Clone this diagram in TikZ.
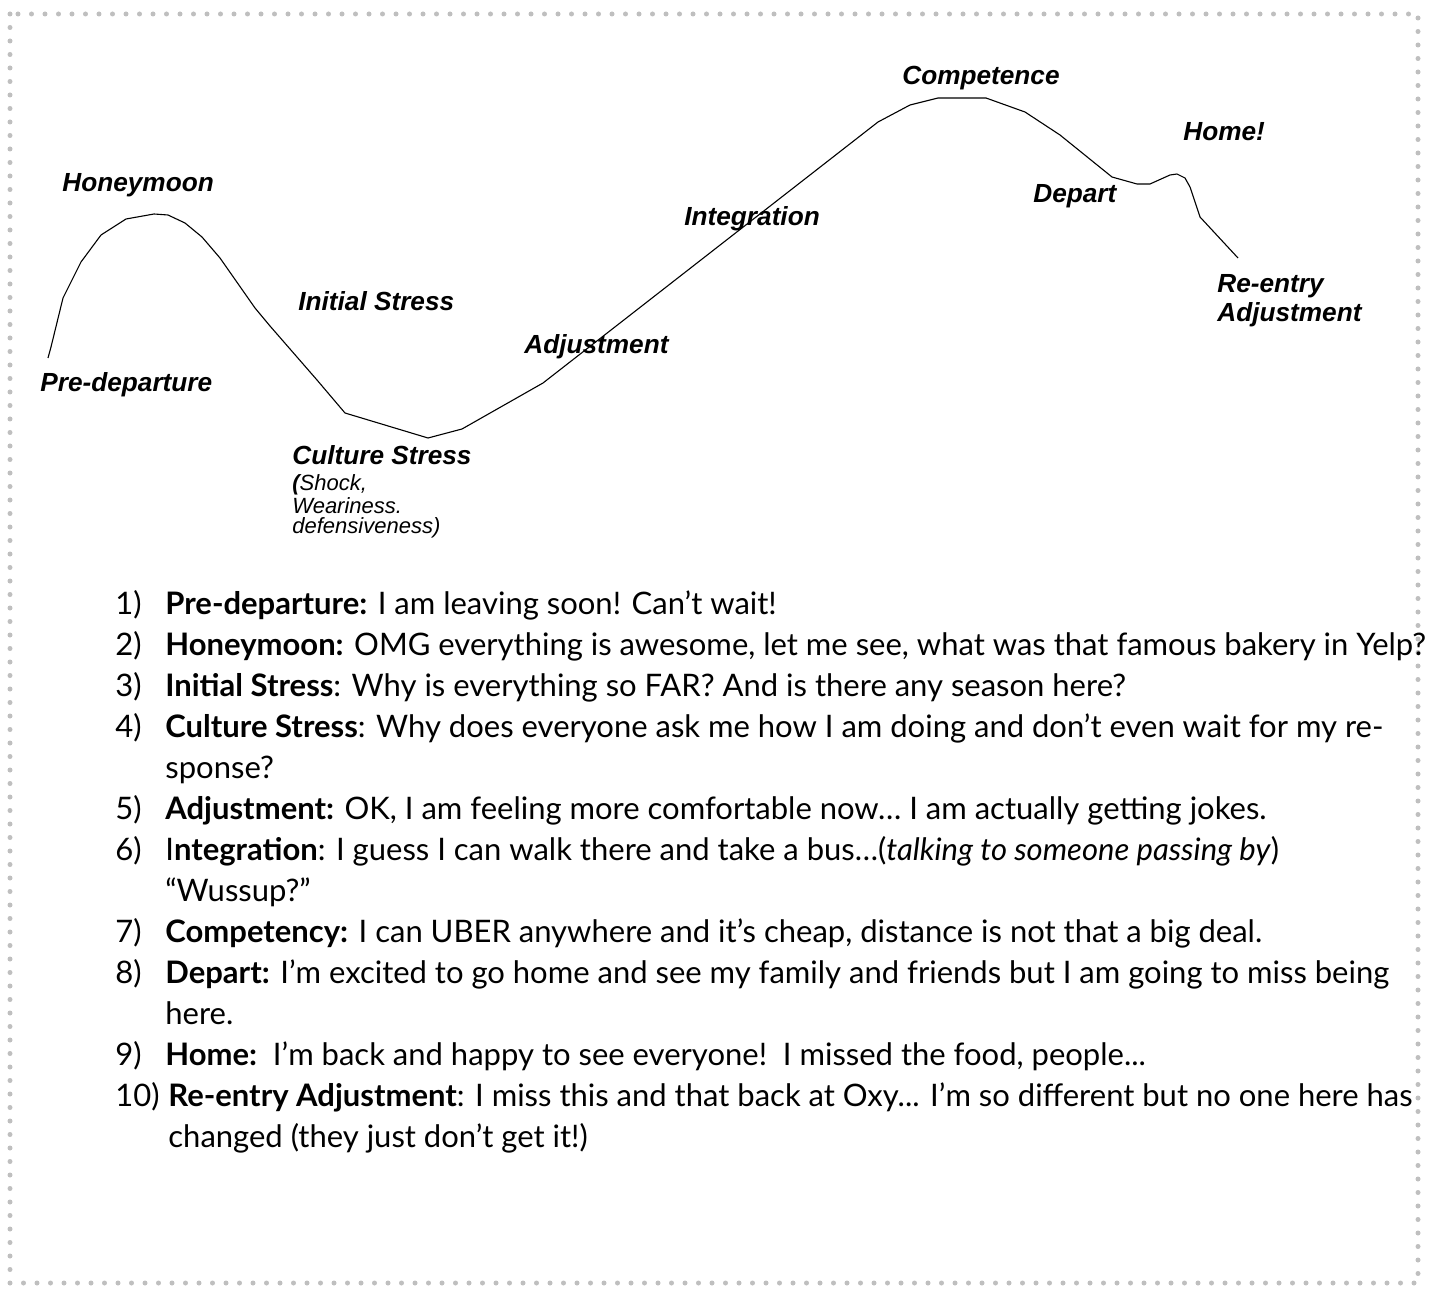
\documentclass[tikz,border=0pt]{standalone}
\usepackage{fontspec}
\setmainfont{Lato}
\newfontfamily\arialfont{Liberation Sans}

\tikzset{
  stage/.style={anchor=base west, inner sep=0pt, align=left,
    font=\arialfont\bfseries\itshape\fontsize{13.1}{14.5}\selectfont},
  aside/.style={anchor=base west, inner sep=0pt, align=left,
    font=\arialfont\itshape\fontsize{11}{10}\selectfont},
  num/.style={anchor=base west, inner sep=0pt, font=\fontsize{15.5}{18}\selectfont},
  entry/.style={anchor=base west, inner sep=0pt, font=\fontsize{15.5}{18}\selectfont},
  curve/.style={line width=0.55pt, line join=round},
  frame/.style={draw=black!25, line width=2.5pt, line cap=round, dash pattern=on 0pt off 6.75pt}
}

\begin{document}
\begin{tikzpicture}[x=0.5pt,y=-0.5pt]
\useasboundingbox (0,0) rectangle (1431,1289);
\draw[frame] (10,14) rectangle (1418,1283);

% the curve
\draw[curve] (48,358) -- (51,347) -- (63,298) -- (81,262) -- (101,235) -- (126,219)
  -- (154,214) -- (168,215) -- (185,223) -- (202,237) -- (220,258) -- (255,308)
  -- (270,326) -- (317,380) -- (345,413) -- (428,438) -- (462,429) -- (543,383)
  -- (878,122) -- (910,105) -- (938,98) -- (986,98) -- (1025,112) -- (1060,135)
  -- (1112,177) -- (1137,184) -- (1150,184) -- (1170,175) -- (1177,174)
  -- (1185,178) -- (1190,187) -- (1200,217) -- (1238,258);

% stages (base = last line)
\node[stage] (pre) at (40,392) {Pre-departure};
\node[stage] (honey) at (62,192) {Honeymoon};
\node[stage] (initial) at (298,311) {Initial Stress};
\node[stage] (culture) at (292,465) {Culture Stress};
\node[aside] (shock) at (292,533) {\textbf{(}Shock,\\Weariness.\\defensiveness)};
\node[stage] (adjust) at (524,354) {Adjustment};
\node[stage] (integ) at (684,226) {Integration};
\node[stage] (compet) at (902,85) {Competence};
\node[stage] (depart) at (1033,203) {Depart};
\node[stage] (home) at (1183,141) {Home!};
\node[stage] (reentry) at (1217,322) {Re-entry\\Adjustment};

% list
\foreach \n/\r in {1/1,2/2,3/3,4/4,5/6,6/7,7/9,8/10,9/12,10/13}
  \node[num] (n\n) at (115,{614+41*(\r-1)}) {\n)};

\node[entry] (e1) at (165,614) {\textbf{Pre-departure:} I am leaving soon! Can’t wait!};
\node[entry] (e2) at (165,655) {\textbf{Honeymoon:} OMG everything is awesome, let me see, what was that famous bakery in Yelp?};
\node[entry] (e3) at (165,696) {\textbf{Initial Stress}: Why is everything so FAR? And is there any season here?};
\node[entry] (e4) at (165,737) {\textbf{Culture Stress}: Why does everyone ask me how I am doing and don’t even wait for my re-};
\node[entry] (e4b) at (165,778) {sponse?};
\node[entry] (e5) at (165,819) {\textbf{Adjustment:} OK, I am feeling more comfortable now… I am actually getting jokes.};
\node[entry] (e6) at (165,860) {I\textbf{ntegration}: I guess I can walk there and take a bus…(\textit{talking to someone passing by})};
\node[entry] (e6b) at (165,901) {“Wussup?”};
\node[entry] (e7) at (165,942) {\textbf{Competency:} I can UBER anywhere and it’s cheap, distance is not that a big deal.};
\node[entry] (e8) at (165,983) {\textbf{Depart:} I’m excited to go home and see my family and friends but I am going to miss being};
\node[entry] (e8b) at (165,1024) {here.};
\node[entry] (e9) at (165,1065) {\textbf{Home:}\ \ I’m back and happy to see everyone!\ \ I missed the food, people...};
\node[entry] (e10) at (168,1106) {\textbf{Re-entry Adjustment}: I miss this and that back at Oxy... I’m so different but no one here has};
\node[entry] (e10b) at (168,1147) {changed (they just don’t get it!)};
\end{tikzpicture}
\end{document}
